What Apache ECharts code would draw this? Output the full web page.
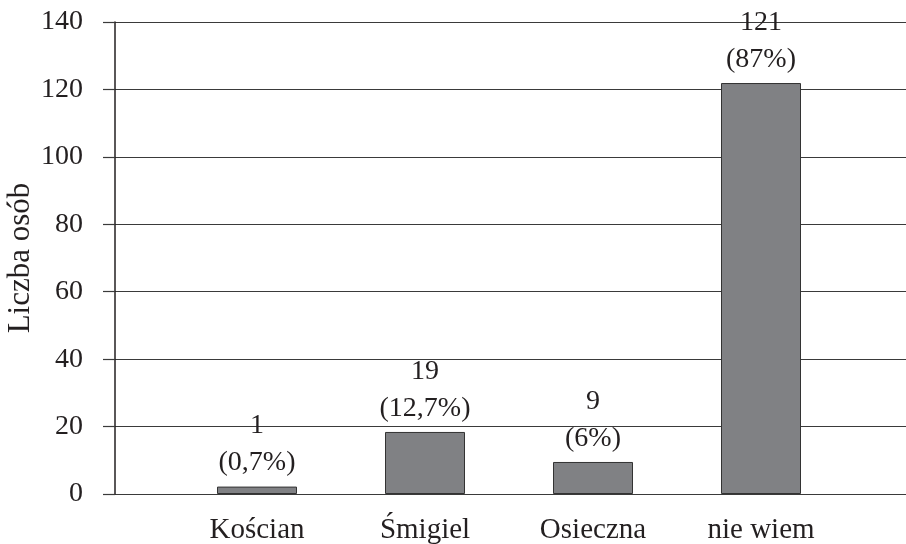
<!DOCTYPE html>
<html>
<head>
<meta charset="utf-8">
<script src="https://cdn.jsdelivr.net/npm/echarts@6/dist/echarts.min.js"></script>
<style>
  html, body { margin: 0; padding: 0; background: #fff; }
  #main { width: 906px; height: 544px; }
</style>
</head>
<body>
<div id="main"></div>
<script>
// dane z wykresu
const categories = ['Kościan', 'Śmigiel', 'Osieczna', 'nie wiem']
const counts = [1, 19, 9, 121]
const percents = ['0,7%', '12,7%', '6%', '87%']
// wysokości słupków
const barHeights = [2.2, 18.4, 9.5, 121.9]
const yTicks = [0, 20, 40, 60, 80, 100, 120, 140]

const font = 'Liberation Serif'
const textColor = '#231f20'

let myChart = echarts.init(document.getElementById('main'))
let option = {
  animation: false,
  textStyle: { fontFamily: font, color: textColor },
  grid: [
    // linie siatki mają dochodzić do prawej krawędzi
    { left: 115, width: 840, top: 22, bottom: 50, outerBoundsMode: 'none' },
    { left: 173, width: 672, top: 22, bottom: 50, outerBoundsMode: 'none' }
  ],
  xAxis: [
    { gridIndex: 0, type: 'value', show: false, min: 0, max: 1 },
    {
      gridIndex: 1,
      type: 'category',
      data: categories,
      axisLine: { show: false },
      axisTick: { show: false },
      axisLabel: { fontFamily: font, fontSize: 29, color: textColor, margin: 22 }
    }
  ],
  yAxis: [
    {
      gridIndex: 0,
      type: 'value',
      min: yTicks[0],
      max: yTicks[yTicks.length - 1],
      interval: 20,
      name: 'Liczba osób',
      nameLocation: 'middle',
      nameGap: 79,
      nameMoveOverlap: false,
      nameTextStyle: { fontFamily: font, fontSize: 31, color: textColor },
      axisLine: { show: true, lineStyle: { color: '#231f20', width: 1.5 } },
      axisTick: { show: true, length: 12, lineStyle: { color: '#3a3a3a', width: 1.2 } },
      axisLabel: { fontFamily: font, fontSize: 28, color: textColor, margin: 32 },
      splitLine: { show: true, lineStyle: { color: '#3a3a3a', width: 1.2 } }
    },
    { gridIndex: 1, type: 'value', show: false, min: 0, max: 140 }
  ],
  series: [
    {
      type: 'bar',
      xAxisIndex: 1,
      yAxisIndex: 1,
      barWidth: 80,
      data: barHeights,
      itemStyle: { color: '#808184', borderColor: '#333', borderWidth: 1 },
      label: {
        show: true,
        position: 'top',
        distance: 5,
        fontFamily: font,
        fontSize: 28,
        lineHeight: 37,
        color: textColor,
        formatter: (p) => counts[p.dataIndex] + '\n(' + percents[p.dataIndex] + ')'
      }
    }
  ]
}
myChart.setOption(option)
</script>
</body>
</html>
